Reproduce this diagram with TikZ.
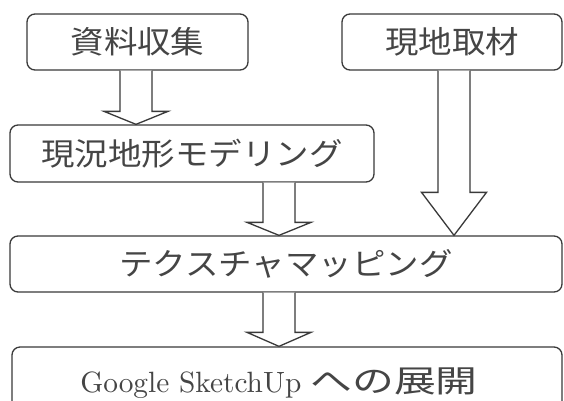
\documentclass[tikz,border=0pt]{standalone}
\usepackage{fontspec}
\usepackage{graphicx}
\newfontfamily\cjk[FakeStretch=1.08]{Noto Sans CJK JP}
\usetikzlibrary{calc}
\definecolor{ink}{HTML}{3A3A3A}
\definecolor{txt}{HTML}{454545}
\tikzset{
  box/.style={draw=ink, line width=1.3pt, rounded corners=8pt, rectangle,
    inner sep=0pt, text=txt, font=\fontsize{31}{31}\selectfont},
  blockarrow/.style={draw=ink, fill=white, line width=1.3pt, line join=miter}
}
% #1 from node, #2 to node, #3 centre x, #4 head length, #5 half head width
\newcommand\blkarr[5]{%
  \draw[blockarrow]
    ($(#3,0 |- #1.south)+(-16,0)$) --
    ($(#3,0 |- #2.north)+(-16,-#4)$) --
    ($(#3,0 |- #2.north)+(-#5,-#4)$) --
    (#3,0 |- #2.north) --
    ($(#3,0 |- #2.north)+(#5,-#4)$) --
    ($(#3,0 |- #2.north)+(16,-#4)$) --
    ($(#3,0 |- #1.south)+(16,0)$);}
\newcommand\latinbig[1]{\resizebox{221pt}{!}{\fontsize{10}{12}\selectfont #1}}
\begin{document}
\begin{tikzpicture}[x=1pt,y=-1pt]
\useasboundingbox[fill=white] (0,0) rectangle (564,400);
\node[box, minimum width=221pt, minimum height=56pt] (b1) at (137.5,42) {\cjk 資料収集};
\node[box, minimum width=220pt, minimum height=56pt] (b2) at (452,42) {\cjk 現地取材};
\node[box, minimum width=364pt, minimum height=57pt] (b3) at (192,153.5) {\cjk 現況地形モデリング};
\node[box, minimum width=552pt, minimum height=56pt] (b4) at (286,264) {\cjk テクスチャマッピング};
\node[box, minimum width=550pt, minimum height=73pt] (b5) at (287,383.5) {\latinbig{Google SketchUp}\hspace{9pt}\scalebox{1.25}[1]{\cjk への展開}\hspace*{16pt}};
\blkarr{b1}{b3}{136}{13}{32}
\blkarr{b3}{b4}{279}{13}{32}
\blkarr{b2}{b4}{454}{43}{32.5}
\blkarr{b4}{b5}{279}{14}{32}
\end{tikzpicture}
\end{document}
